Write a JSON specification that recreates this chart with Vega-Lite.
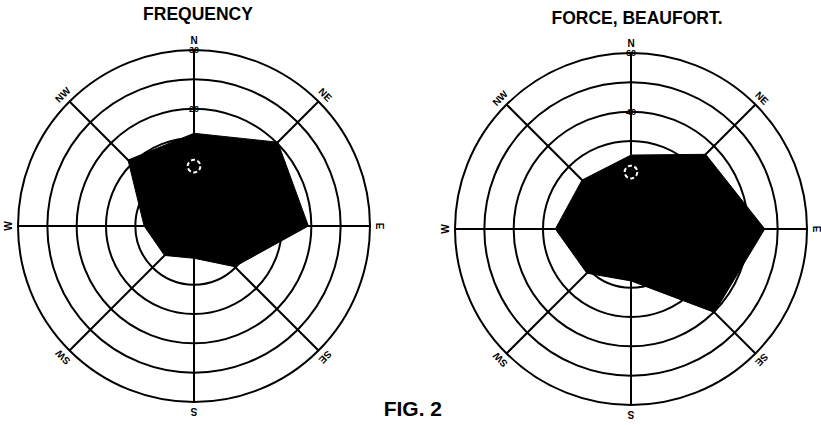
{
  "$schema": "https://vega.github.io/schema/vega-lite/v6.json",
  "background": "white",
  "padding": {"left": 3, "top": 6, "right": 0, "bottom": 0},
  "bounds": "flush",
  "spacing": 85,
  "resolve": {"scale": {"size": "independent", "angle": "independent"}},
  "config": {"view": {"stroke": null}, "text": {"font": "Liberation Sans"}},
  "datasets": {
    "freq": [
      {"dir": "N", "bearing": 0, "value": 15.8},
      {"dir": "NE", "bearing": 45, "value": 20.2},
      {"dir": "E", "bearing": 90, "value": 19.5},
      {"dir": "SE", "bearing": 135, "value": 9.8},
      {"dir": "S", "bearing": 180, "value": 5.5},
      {"dir": "SW", "bearing": 225, "value": 7.1},
      {"dir": "W", "bearing": 270, "value": 8.5},
      {"dir": "NW", "bearing": 315, "value": 15.9}
    ],
    "force": [
      {"dir": "N", "bearing": 0, "value": 25.2},
      {"dir": "NE", "bearing": 45, "value": 36.0},
      {"dir": "E", "bearing": 90, "value": 45.6},
      {"dir": "SE", "bearing": 135, "value": 40.2},
      {"dir": "S", "bearing": 180, "value": 17.7},
      {"dir": "SW", "bearing": 225, "value": 21.3},
      {"dir": "W", "bearing": 270, "value": 25.8},
      {"dir": "NW", "bearing": 315, "value": 23.6}
    ],
    "freqRings": [
      {"ring": 10, "label": ""},
      {"ring": 15, "label": ""},
      {"ring": 20, "label": "20"},
      {"ring": 25, "label": ""},
      {"ring": 30, "label": "30"}
    ],
    "forceRings": [
      {"ring": 20, "label": ""},
      {"ring": 30, "label": ""},
      {"ring": 40, "label": "40"},
      {"ring": 50, "label": ""},
      {"ring": 60, "label": "60"}
    ]
  },
  "hconcat": [
    {
      "width": 352,
      "height": 352,
      "title": {"text": "FREQUENCY", "font": "Liberation Sans", "fontSize": 17.5, "fontWeight": "bold", "frame": "group", "anchor": "middle", "offset": 12, "dx": 4, "color": "black"},
      "layer": [
        {
          "data": {"name": "freqRings"},
          "mark": {"type": "point", "shape": "circle", "filled": false, "stroke": "black", "strokeWidth": 2, "opacity": 1},
          "encoding": {
            "x": {"datum": 0, "type": "quantitative", "scale": {"domain": [-30, 30], "nice": false, "zero": false}, "axis": null},
            "y": {"datum": 0, "type": "quantitative", "scale": {"domain": [-30, 30], "nice": false, "zero": false}, "axis": null},
            "size": {"field": "ring", "type": "quantitative", "scale": {"type": "pow", "exponent": 2, "domain": [0, 30], "range": [0, 123904]}, "legend": null}
          }
        },
        {
          "data": {"name": "freq"},
          "transform": [
            {"calculate": "30*sin(datum.bearing*PI/180)", "as": "ex"},
            {"calculate": "30*cos(datum.bearing*PI/180)", "as": "ey"}
          ],
          "mark": {"type": "rule", "stroke": "black", "strokeWidth": 2},
          "encoding": {
            "x": {"datum": 0, "type": "quantitative"},
            "y": {"datum": 0, "type": "quantitative"},
            "x2": {"field": "ex", "type": "quantitative"},
            "y2": {"field": "ey", "type": "quantitative"}
          }
        },
        {
          "data": {"name": "freq"},
          "transform": [
            {"calculate": "datum.value*sin(datum.bearing*PI/180)", "as": "px"},
            {"calculate": "datum.value*cos(datum.bearing*PI/180)", "as": "py"}
          ],
          "mark": {"type": "line", "interpolate": "linear-closed", "fill": "black", "stroke": "black", "strokeWidth": 1},
          "encoding": {
            "x": {"field": "px", "type": "quantitative"},
            "y": {"field": "py", "type": "quantitative"},
            "order": {"field": "bearing", "type": "quantitative"}
          }
        },
        {
          "data": {"values": [{"marker": "calm"}]},
          "mark": {"type": "point", "shape": "circle", "filled": false, "stroke": "white", "strokeWidth": 2, "strokeDash": [4, 2.5], "size": 160, "opacity": 1},
          "encoding": {
            "x": {"datum": 0, "type": "quantitative"},
            "y": {"datum": 10.2, "type": "quantitative"}
          }
        },
        {
          "data": {"name": "freqRings"},
          "mark": {"type": "text", "fontSize": 9, "fontWeight": "bold", "align": "center", "baseline": "middle", "color": "black"},
          "encoding": {
            "x": {"datum": 0, "type": "quantitative"},
            "y": {"field": "ring", "type": "quantitative"},
            "text": {"field": "label", "type": "nominal"}
          }
        },
        {
          "data": {"name": "freq"},
          "transform": [
            {"calculate": "31.55*sin(datum.bearing*PI/180)", "as": "lx"},
            {"calculate": "31.55*cos(datum.bearing*PI/180)", "as": "ly"}
          ],
          "mark": {"type": "text", "fontSize": 10, "fontWeight": "bold", "align": "center", "baseline": "middle", "color": "black"},
          "encoding": {
            "x": {"field": "lx", "type": "quantitative"},
            "y": {"field": "ly", "type": "quantitative"},
            "angle": {"field": "bearing", "type": "quantitative", "scale": {"domain": [0, 360], "range": [0, 360]}, "legend": null},
            "text": {"field": "dir", "type": "nominal"}
          }
        },
        {
          "data": {"values": [{"caption": "FIG. 2"}]},
          "mark": {"type": "text", "fontSize": 21, "fontWeight": "bold", "align": "center", "baseline": "middle", "color": "black"},
          "encoding": {
            "x": {"datum": 37.3, "type": "quantitative"},
            "y": {"datum": -31.4, "type": "quantitative"},
            "text": {"field": "caption", "type": "nominal"}
          }
        }
      ]
    },
    {
      "width": 352,
      "height": 355,
      "title": {"text": "FORCE, BEAUFORT.", "font": "Liberation Sans", "fontSize": 17.5, "fontWeight": "bold", "frame": "group", "anchor": "middle", "offset": 12, "dx": 6, "color": "black"},
      "layer": [
        {
          "data": {"name": "forceRings"},
          "mark": {"type": "point", "shape": "circle", "filled": false, "stroke": "black", "strokeWidth": 2, "opacity": 1},
          "encoding": {
            "x": {"datum": 0, "type": "quantitative", "scale": {"domain": [-60, 60], "nice": false, "zero": false}, "axis": null},
            "y": {"datum": 0, "type": "quantitative", "scale": {"domain": [-60, 61.02], "nice": false, "zero": false}, "axis": null},
            "size": {"field": "ring", "type": "quantitative", "scale": {"type": "pow", "exponent": 2, "domain": [0, 60], "range": [0, 123904]}, "legend": null}
          }
        },
        {
          "data": {"name": "force"},
          "transform": [
            {"calculate": "60*sin(datum.bearing*PI/180)", "as": "ex"},
            {"calculate": "60*cos(datum.bearing*PI/180)", "as": "ey"}
          ],
          "mark": {"type": "rule", "stroke": "black", "strokeWidth": 2},
          "encoding": {
            "x": {"datum": 0, "type": "quantitative"},
            "y": {"datum": 0, "type": "quantitative"},
            "x2": {"field": "ex", "type": "quantitative"},
            "y2": {"field": "ey", "type": "quantitative"}
          }
        },
        {
          "data": {"name": "force"},
          "transform": [
            {"calculate": "datum.value*sin(datum.bearing*PI/180)", "as": "px"},
            {"calculate": "datum.value*cos(datum.bearing*PI/180)", "as": "py"}
          ],
          "mark": {"type": "line", "interpolate": "linear-closed", "fill": "black", "stroke": "black", "strokeWidth": 1},
          "encoding": {
            "x": {"field": "px", "type": "quantitative"},
            "y": {"field": "py", "type": "quantitative"},
            "order": {"field": "bearing", "type": "quantitative"}
          }
        },
        {
          "data": {"values": [{"marker": "calm"}]},
          "mark": {"type": "point", "shape": "circle", "filled": false, "stroke": "white", "strokeWidth": 2, "strokeDash": [4, 2.5], "size": 160, "opacity": 1},
          "encoding": {
            "x": {"datum": 0, "type": "quantitative"},
            "y": {"datum": 19.4, "type": "quantitative"}
          }
        },
        {
          "data": {"name": "forceRings"},
          "mark": {"type": "text", "fontSize": 9, "fontWeight": "bold", "align": "center", "baseline": "middle", "color": "black"},
          "encoding": {
            "x": {"datum": 0, "type": "quantitative"},
            "y": {"field": "ring", "type": "quantitative"},
            "text": {"field": "label", "type": "nominal"}
          }
        },
        {
          "data": {"name": "force"},
          "transform": [
            {"calculate": "62.9*sin(datum.bearing*PI/180)", "as": "lx"},
            {"calculate": "62.9*cos(datum.bearing*PI/180)", "as": "ly"}
          ],
          "mark": {"type": "text", "fontSize": 10, "fontWeight": "bold", "align": "center", "baseline": "middle", "color": "black"},
          "encoding": {
            "x": {"field": "lx", "type": "quantitative"},
            "y": {"field": "ly", "type": "quantitative"},
            "angle": {"field": "bearing", "type": "quantitative", "scale": {"domain": [0, 360], "range": [0, 360]}, "legend": null},
            "text": {"field": "dir", "type": "nominal"}
          }
        }
      ]
    }
  ]
}
